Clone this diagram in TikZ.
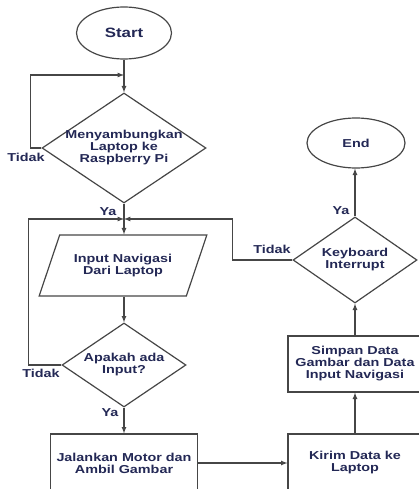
\documentclass[tikz,border=0pt]{standalone}
\usepackage{fontspec}
\usetikzlibrary{shapes.geometric}
\newfontfamily\flowfont{Liberation Sans}[FakeStretch=1.25]
\definecolor{ink}{RGB}{35,40,85}
\definecolor{wire}{RGB}{70,70,70}

\begin{document}
\begin{tikzpicture}[x=1pt,y=-1pt,
		every node/.style={font=\flowfont\bfseries\fontsize{11.5}{12}\selectfont, text=ink, align=center},
		term/.style={ellipse, draw=wire, line width=1.2pt, inner sep=0pt},
		dec/.style={diamond, draw=wire, line width=1.2pt, inner sep=-3pt, aspect=1.5},
		proc/.style={rectangle, draw=wire, line width=1.2pt, inner sep=0pt},
		io/.style={trapezium, trapezium left angle=55, trapezium right angle=125, trapezium stretches=true, draw=wire, line width=1.2pt, inner sep=0pt},
		lbl/.style={inner sep=1pt},
		arr/.style={-latex, draw=wire, line width=1.2pt}]
		\useasboundingbox (0,0) rectangle (419,489);
		% left column
		\node[term, minimum width=95, minimum height=52] (start) at (124,33) {\fontsize{13.5}{14}\selectfont Start};
		\node[dec, minimum width=164, minimum height=110] (conn) at (124,148) {Menyambungkan\\Laptop ke\\Raspberry Pi};
		\node[io, minimum width=168, minimum height=61] (inp) at (123,265.5) {Input Navigasi\\Dari Laptop};
		\node[dec, minimum width=124, minimum height=84] (ask) at (124,365) {Apakah ada\\Input?};
		\node[proc, minimum width=147, minimum height=58] (run) at (124,463) {Jalankan Motor dan\\Ambil Gambar};
		% right column
		\node[proc, minimum width=134, minimum height=58] (send) at (355,463) {Kirim Data ke\\Laptop};
		\node[proc, minimum width=134, minimum height=56] (save) at (355,364) {Simpan Data\\Gambar dan Data\\Input Navigasi};
		\node[dec, minimum width=124, minimum height=86] (kbd) at (355,260) {Keyboard\\Interrupt};
		\node[term, minimum width=98, minimum height=50] (end) at (356,143) {End};
		% junctions
		\coordinate (j1) at (124,75);
		\coordinate (j2) at (124,219);
		% labels
		\node[lbl] (no1) at (26,157) {Tidak};
		\node[lbl] (yes1) at (108,212) {Ya};
		\node[lbl] (no2) at (41,373) {Tidak};
		\node[lbl] (yes2) at (110,413) {Ya};
		\node[lbl] (no3) at (272,249) {Tidak};
		\node[lbl] (yes3) at (341,211) {Ya};
		% connectors
		\draw[arr] (start) -- (conn);
		\draw[arr] (conn.west) -- ++(-11,0) |- (j1);
		\draw[arr] (conn.south) -- (inp.north -| conn.south);
		\draw[arr] (ask.west) -- ++(-33,0) |- (j2);
		\draw[arr] (kbd.west) -- ++(-60,0) |- (j2);
		\draw[arr] (inp.south -| ask.north) -- (ask.north);
		\draw[arr] (ask) -- (run);
		\draw[arr] (run) -- (send);
		\draw[arr] (send) -- (save);
		\draw[arr] (save) -- (kbd);
		\draw[arr] (kbd.north) -- (end.south -| kbd.north);
	\end{tikzpicture}
\end{document}
